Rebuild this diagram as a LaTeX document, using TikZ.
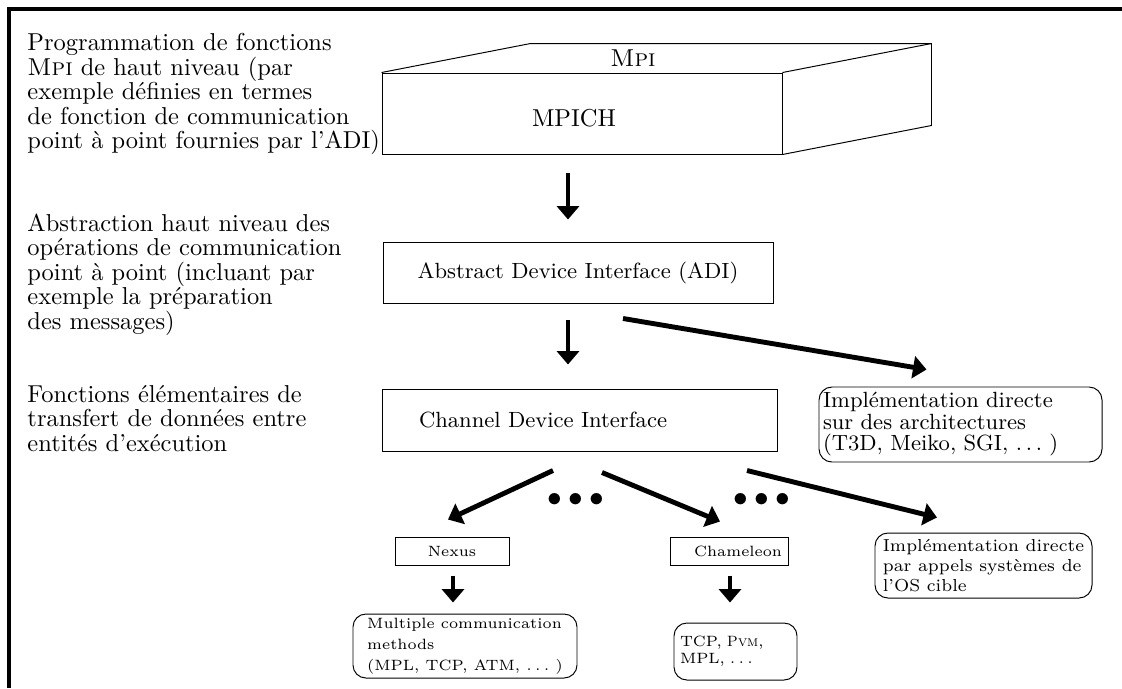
\documentclass[tikz,border=0pt]{standalone}
\usepackage{tikz}
\usetikzlibrary{arrows.meta, calc}
\newlength{\unitpx}
\setlength{\unitpx}{0.409pt}
\tikzset{
  layerbox/.style={draw, inner sep=0pt},
  notebox/.style={draw, rounded corners=5.3pt, inner sep=0pt, align=left},
  sidetext/.style={align=left, anchor=west, inner sep=0pt, font=\fontsize{10}{10}\selectfont},
  bigarrow/.style={-{Triangle[width=9pt,length=5.5pt]}, line width=2pt},
  frameline/.style={line width=1.4pt}
}
\begin{document}
\begin{tikzpicture}[x=0.409pt, y=-0.409pt]
\useasboundingbox (0,0) rectangle (1122,688);
\draw[frameline] (1122,9) -| (9,688);

\node[sidetext] (progtext) at (27,94) {Programmation de fonctions\\ \textsc{Mpi} de haut niveau (par\\ exemple définies en termes\\ de fonction de communication\\ point à point fournies par l'ADI)};
\node[sidetext] (abstext) at (27,274.5) {Abstraction haut niveau des\\ opérations de communication\\ point à point (incluant par\\ exemple la préparation\\ des messages)};
\node[sidetext] (transtext) at (27,418.5) {Fonctions élémentaires de\\ transfert de données entre\\ entités d'exécution};

\node[layerbox, minimum width=400\unitpx, minimum height=81\unitpx, text width=100\unitpx, inner xsep=150\unitpx, align=left, text height=10.5pt, text depth=0pt] (mpich) at (582,113.5) {MPICH};
\draw (mpich.north west) -- ++(149,-29) -- ($(mpich.north east)+(149,-29)$) -- ($(mpich.south east)+(149,-29)$) -- (mpich.south east);
\draw (mpich.north east) -- ++(149,-29);
\node (mpi) at (633,58) {\textsc{Mpi}};
\node[layerbox, font=\small, minimum width=390\unitpx, minimum height=61\unitpx] (adi) at (578,272.5) {Abstract Device Interface (ADI)};
\node[layerbox, font=\small, minimum width=395\unitpx, minimum height=62\unitpx, text width=321\unitpx, inner xsep=37\unitpx, align=left] (cdi) at (579.5,420) {Channel Device Interface};
\node[notebox, font=\fontsize{9}{8.8}\selectfont, minimum width=283\unitpx, minimum height=75\unitpx, text width=275\unitpx, inner xsep=4\unitpx] (archi) at (960.5,424.5) {Implémentation directe\\ sur des architectures\\ (T3D, Meiko, SGI, $\ldots$\ )};

\node[layerbox, font=\fontsize{6.1}{7}\selectfont, minimum width=114\unitpx, minimum height=28\unitpx] (nexus) at (452,551) {Nexus};
\node[layerbox, font=\fontsize{6.1}{7}\selectfont, minimum width=118\unitpx, minimum height=28\unitpx, text width=106\unitpx, inner xsep=6\unitpx, align=right] (cham) at (729,551) {Chameleon};
\node[notebox, font=\fontsize{6.1}{8.6}\selectfont, minimum width=224\unitpx, minimum height=64\unitpx] (methods) at (465,646) {Multiple communication\\ methods\\ (MPL, TCP, ATM, $\ldots$\ )};
\node[notebox, font=\fontsize{6.1}{6.9}\selectfont, minimum width=123\unitpx, minimum height=57\unitpx, text width=111\unitpx, inner xsep=6\unitpx] (proto) at (735.5,651.5) {TCP, \textsc{Pvm},\\ MPL, $\ldots$};
\node[notebox, font=\fontsize{7.1}{8.2}\selectfont, minimum width=217\unitpx, minimum height=65\unitpx] (syscall) at (983.5,565.5) {Implémentation directe\\ par appels systèmes de\\ l'OS cible};
\node[font=\large] (dotsa) at (576,500) {$\bullet\bullet\bullet$};
\node[font=\large] (dotsb) at (762,500) {$\bullet\bullet\bullet$};

\draw[bigarrow] ($(mpich.south)+(-14,19)$) -- ($(adi.north)+(-10,-22)$);
\draw[bigarrow] ($(adi.south)+(-10,17)$) -- ($(cdi.north)+(-11.5,-24)$);
\draw[bigarrow] ($(adi.south)+(45,15)$) -- ($(archi.north west)+(108,-17)$);
\draw[bigarrow] ($(cdi.south)+(-26.5,19)$) -- ($(nexus.north)+(-4,-17)$);
\draw[bigarrow] ($(cdi.south)+(22.5,21)$) -- ($(cham.north)+(-9,-15)$);
\draw[bigarrow] ($(cdi.south)+(167.5,19)$) -- ($(syscall.north)+(-46.5,-15)$);
\draw[bigarrow] ($(nexus.south)+(1,10)$) -- ($(methods.north)+(-12,-11)$);
\draw[bigarrow] ($(cham.south)+(1,10)$) -- ($(proto.north)+(-5.5,-20)$);
\end{tikzpicture}
\end{document}
